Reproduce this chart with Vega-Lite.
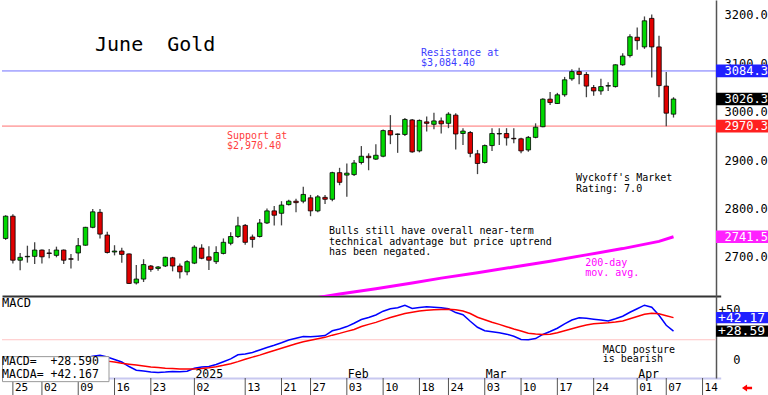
{
"$schema": "https://vega.github.io/schema/vega-lite/v6.json",
"background": "white",
"padding": 0,
"spacing": 0,
"bounds": "flush",
"config": {"view": {"stroke": null}, "font": "DejaVu Sans Mono", "axis": {"grid": false, "title": null}},
"datasets": {
"candles": [
{"d":"2024-11-22","o":2738,"h":2786,"l":2735,"c":2784},
{"d":"2024-11-25","o":2784,"h":2788,"l":2686,"c":2693},
{"d":"2024-11-26","o":2693,"h":2708,"l":2672,"c":2699},
{"d":"2024-11-27","o":2700,"h":2723,"l":2688,"c":2701},
{"d":"2024-11-29","o":2701,"h":2730,"l":2685,"c":2714},
{"d":"2024-12-02","o":2714,"h":2715,"l":2686,"c":2700},
{"d":"2024-12-03","o":2708,"h":2716,"l":2697,"c":2707},
{"d":"2024-12-04","o":2703,"h":2721,"l":2699,"c":2714},
{"d":"2024-12-05","o":2714,"h":2715,"l":2685,"c":2693},
{"d":"2024-12-06","o":2696,"h":2706,"l":2676,"c":2695},
{"d":"2024-12-09","o":2708,"h":2739,"l":2692,"c":2723},
{"d":"2024-12-10","o":2724,"h":2762,"l":2723,"c":2761},
{"d":"2024-12-11","o":2761,"h":2799,"l":2759,"c":2793},
{"d":"2024-12-12","o":2792,"h":2799,"l":2738,"c":2747},
{"d":"2024-12-13","o":2745,"h":2752,"l":2707,"c":2709},
{"d":"2024-12-16","o":2710,"h":2724,"l":2703,"c":2712},
{"d":"2024-12-17","o":2712,"h":2719,"l":2688,"c":2705},
{"d":"2024-12-18","o":2706,"h":2707,"l":2644,"c":2645},
{"d":"2024-12-19","o":2646,"h":2683,"l":2643,"c":2654},
{"d":"2024-12-20","o":2654,"h":2695,"l":2648,"c":2684},
{"d":"2024-12-23","o":2681,"h":2683,"l":2669,"c":2674},
{"d":"2024-12-24","o":2676,"h":2681,"l":2671,"c":2679},
{"d":"2024-12-26","o":2681,"h":2700,"l":2679,"c":2699},
{"d":"2024-12-27","o":2698,"h":2700,"l":2670,"c":2681},
{"d":"2024-12-30","o":2681,"h":2686,"l":2655,"c":2669},
{"d":"2024-12-31","o":2669,"h":2693,"l":2662,"c":2690},
{"d":"2025-01-02","o":2687,"h":2724,"l":2685,"c":2720},
{"d":"2025-01-03","o":2718,"h":2726,"l":2695,"c":2697},
{"d":"2025-01-06","o":2700,"h":2722,"l":2673,"c":2693},
{"d":"2025-01-07","o":2690,"h":2722,"l":2685,"c":2709},
{"d":"2025-01-08","o":2707,"h":2738,"l":2705,"c":2730},
{"d":"2025-01-09","o":2728,"h":2751,"l":2724,"c":2742},
{"d":"2025-01-10","o":2742,"h":2783,"l":2739,"c":2764},
{"d":"2025-01-13","o":2765,"h":2768,"l":2725,"c":2730},
{"d":"2025-01-14","o":2741,"h":2746,"l":2719,"c":2736},
{"d":"2025-01-15","o":2742,"h":2778,"l":2740,"c":2770},
{"d":"2025-01-16","o":2770,"h":2800,"l":2768,"c":2795},
{"d":"2025-01-17","o":2795,"h":2805,"l":2765,"c":2786},
{"d":"2025-01-21","o":2790,"h":2815,"l":2765,"c":2807},
{"d":"2025-01-22","o":2808,"h":2818,"l":2806,"c":2815},
{"d":"2025-01-23","o":2815,"h":2820,"l":2792,"c":2812},
{"d":"2025-01-24","o":2815,"h":2845,"l":2811,"c":2829},
{"d":"2025-01-27","o":2822,"h":2828,"l":2784,"c":2795},
{"d":"2025-01-28","o":2795,"h":2828,"l":2792,"c":2824},
{"d":"2025-01-29","o":2823,"h":2828,"l":2809,"c":2819},
{"d":"2025-01-30","o":2819,"h":2876,"l":2815,"c":2874},
{"d":"2025-01-31","o":2874,"h":2884,"l":2848,"c":2854},
{"d":"2025-02-03","o":2869,"h":2893,"l":2824,"c":2873},
{"d":"2025-02-04","o":2870,"h":2900,"l":2867,"c":2894},
{"d":"2025-02-05","o":2895,"h":2929,"l":2891,"c":2908},
{"d":"2025-02-06","o":2908,"h":2914,"l":2879,"c":2905},
{"d":"2025-02-07","o":2902,"h":2933,"l":2900,"c":2910},
{"d":"2025-02-10","o":2908,"h":2963,"l":2906,"c":2961},
{"d":"2025-02-11","o":2961,"h":2993,"l":2933,"c":2952},
{"d":"2025-02-12","o":2953,"h":2955,"l":2915,"c":2954},
{"d":"2025-02-13","o":2953,"h":2987,"l":2950,"c":2984},
{"d":"2025-02-14","o":2983,"h":2985,"l":2915,"c":2917},
{"d":"2025-02-18","o":2919,"h":2984,"l":2916,"c":2982},
{"d":"2025-02-19","o":2979,"h":2990,"l":2959,"c":2976},
{"d":"2025-02-20","o":2974,"h":2998,"l":2964,"c":2981},
{"d":"2025-02-21","o":2981,"h":2988,"l":2955,"c":2975},
{"d":"2025-02-24","o":2976,"h":2999,"l":2966,"c":2995},
{"d":"2025-02-25","o":2993,"h":2997,"l":2922,"c":2954},
{"d":"2025-02-26","o":2955,"h":2966,"l":2931,"c":2960},
{"d":"2025-02-27","o":2957,"h":2960,"l":2906,"c":2914},
{"d":"2025-02-28","o":2913,"h":2921,"l":2871,"c":2893},
{"d":"2025-03-03","o":2895,"h":2932,"l":2893,"c":2930},
{"d":"2025-03-04","o":2930,"h":2966,"l":2919,"c":2955},
{"d":"2025-03-05","o":2954,"h":2966,"l":2931,"c":2955},
{"d":"2025-03-06","o":2955,"h":2966,"l":2930,"c":2946},
{"d":"2025-03-07","o":2945,"h":2966,"l":2935,"c":2944},
{"d":"2025-03-10","o":2944,"h":2946,"l":2914,"c":2919},
{"d":"2025-03-11","o":2921,"h":2950,"l":2917,"c":2947},
{"d":"2025-03-12","o":2947,"h":2976,"l":2945,"c":2968},
{"d":"2025-03-13","o":2969,"h":3028,"l":2968,"c":3026},
{"d":"2025-03-14","o":3026,"h":3041,"l":3014,"c":3019},
{"d":"2025-03-17","o":3017,"h":3039,"l":3016,"c":3035},
{"d":"2025-03-18","o":3035,"h":3072,"l":3031,"c":3066},
{"d":"2025-03-19","o":3068,"h":3088,"l":3064,"c":3083},
{"d":"2025-03-20","o":3083,"h":3091,"l":3057,"c":3077},
{"d":"2025-03-21","o":3077,"h":3082,"l":3030,"c":3053},
{"d":"2025-03-24","o":3050,"h":3055,"l":3033,"c":3043},
{"d":"2025-03-25","o":3043,"h":3068,"l":3035,"c":3052},
{"d":"2025-03-26","o":3053,"h":3061,"l":3043,"c":3054},
{"d":"2025-03-27","o":3052,"h":3098,"l":3050,"c":3097},
{"d":"2025-03-28","o":3097,"h":3121,"l":3095,"c":3115},
{"d":"2025-03-31","o":3116,"h":3160,"l":3112,"c":3155},
{"d":"2025-04-01","o":3154,"h":3174,"l":3128,"c":3147},
{"d":"2025-04-02","o":3134,"h":3197,"l":3130,"c":3188},
{"d":"2025-04-03","o":3193,"h":3201,"l":3071,"c":3134},
{"d":"2025-04-04","o":3134,"h":3157,"l":3030,"c":3054},
{"d":"2025-04-07","o":3053,"h":3082,"l":2970,"c":2997},
{"d":"2025-04-08","o":2995,"h":3030,"l":2988,"c":3026.3}
],
"ma": [
{"d":"2025-01-24","v":2611},
{"d":"2025-01-31","v":2623},
{"d":"2025-02-07","v":2634},
{"d":"2025-02-14","v":2646},
{"d":"2025-02-21","v":2656},
{"d":"2025-02-28","v":2667},
{"d":"2025-03-07","v":2679},
{"d":"2025-03-14","v":2691},
{"d":"2025-03-21","v":2704},
{"d":"2025-03-28","v":2717},
{"d":"2025-04-04","v":2732},
{"d":"2025-04-08","v":2741.5}
],
"macd": [
{"d":"2024-12-10","m":2.0,"s":0.8},
{"d":"2024-12-11","m":3.6,"s":0.6},
{"d":"2024-12-12","m":4.5,"s":-0.3},
{"d":"2024-12-13","m":2.8,"s":-1.4},
{"d":"2024-12-16","m":0.2,"s":-2.2},
{"d":"2024-12-17","m":-2.3,"s":-3.5},
{"d":"2024-12-18","m":-6.8,"s":-4.5},
{"d":"2024-12-19","m":-10.5,"s":-5.4},
{"d":"2024-12-20","m":-11.4,"s":-6.3},
{"d":"2024-12-23","m":-12.4,"s":-7.2},
{"d":"2024-12-24","m":-12.7,"s":-7.9},
{"d":"2024-12-26","m":-12.4,"s":-8.5},
{"d":"2024-12-27","m":-11.8,"s":-8.9},
{"d":"2024-12-30","m":-12.0,"s":-9.2},
{"d":"2024-12-31","m":-11.5,"s":-9.4},
{"d":"2025-01-02","m":-8.5,"s":-9.2},
{"d":"2025-01-03","m":-7.3,"s":-8.8},
{"d":"2025-01-06","m":-6.8,"s":-8.0},
{"d":"2025-01-07","m":-4.8,"s":-7.0},
{"d":"2025-01-08","m":-2.0,"s":-5.6},
{"d":"2025-01-09","m":0.8,"s":-4.0},
{"d":"2025-01-10","m":5.0,"s":-1.9},
{"d":"2025-01-13","m":5.8,"s":0.4},
{"d":"2025-01-14","m":7.3,"s":2.6},
{"d":"2025-01-15","m":9.8,"s":4.6},
{"d":"2025-01-16","m":12.3,"s":6.9},
{"d":"2025-01-17","m":14.5,"s":9.2},
{"d":"2025-01-21","m":17.0,"s":11.5},
{"d":"2025-01-22","m":19.8,"s":13.8},
{"d":"2025-01-23","m":21.6,"s":16.0},
{"d":"2025-01-24","m":23.2,"s":18.0},
{"d":"2025-01-27","m":23.0,"s":19.6},
{"d":"2025-01-28","m":23.6,"s":21.0},
{"d":"2025-01-29","m":24.2,"s":22.4},
{"d":"2025-01-30","m":29.0,"s":24.6},
{"d":"2025-01-31","m":30.8,"s":26.4},
{"d":"2025-02-03","m":33.2,"s":28.4},
{"d":"2025-02-04","m":36.5,"s":30.3},
{"d":"2025-02-05","m":40.3,"s":33.2},
{"d":"2025-02-06","m":42.3,"s":35.4},
{"d":"2025-02-07","m":44.8,"s":37.4},
{"d":"2025-02-10","m":48.6,"s":39.9},
{"d":"2025-02-11","m":51.0,"s":42.2},
{"d":"2025-02-12","m":52.0,"s":44.3},
{"d":"2025-02-13","m":54.5,"s":46.2},
{"d":"2025-02-14","m":51.3,"s":47.5},
{"d":"2025-02-18","m":52.3,"s":48.8},
{"d":"2025-02-19","m":53.0,"s":49.5},
{"d":"2025-02-20","m":52.5,"s":50.0},
{"d":"2025-02-21","m":52.0,"s":50.4},
{"d":"2025-02-24","m":51.0,"s":50.6},
{"d":"2025-02-25","m":47.2,"s":50.1},
{"d":"2025-02-26","m":45.0,"s":48.7},
{"d":"2025-02-27","m":38.5,"s":46.3},
{"d":"2025-02-28","m":32.5,"s":42.5},
{"d":"2025-03-03","m":29.0,"s":40.0},
{"d":"2025-03-04","m":28.0,"s":37.6},
{"d":"2025-03-05","m":27.0,"s":35.4},
{"d":"2025-03-06","m":25.6,"s":33.1},
{"d":"2025-03-07","m":23.5,"s":30.8},
{"d":"2025-03-10","m":20.3,"s":28.8},
{"d":"2025-03-11","m":20.0,"s":26.6},
{"d":"2025-03-12","m":21.2,"s":25.8},
{"d":"2025-03-13","m":25.3,"s":25.3},
{"d":"2025-03-14","m":28.2,"s":25.5},
{"d":"2025-03-17","m":31.5,"s":27.0},
{"d":"2025-03-18","m":35.8,"s":29.0},
{"d":"2025-03-19","m":39.8,"s":31.0},
{"d":"2025-03-20","m":42.0,"s":33.0},
{"d":"2025-03-21","m":41.5,"s":34.8},
{"d":"2025-03-24","m":40.6,"s":35.9},
{"d":"2025-03-25","m":39.7,"s":36.6},
{"d":"2025-03-26","m":38.8,"s":37.1},
{"d":"2025-03-27","m":41.0,"s":37.8},
{"d":"2025-03-28","m":43.5,"s":38.8},
{"d":"2025-03-31","m":47.5,"s":41.0},
{"d":"2025-04-01","m":51.0,"s":43.2},
{"d":"2025-04-02","m":54.6,"s":45.5},
{"d":"2025-04-03","m":52.5,"s":46.5},
{"d":"2025-04-04","m":44.5,"s":46.0},
{"d":"2025-04-07","m":34.5,"s":44.0},
{"d":"2025-04-08","m":28.59,"s":42.17}
],
"ticks": [
{"d":"2024-11-25","t":"25"},{"d":"2024-12-02","t":"02"},{"d":"2024-12-09","t":"09"},{"d":"2024-12-16","t":"16"},{"d":"2024-12-23","t":"23"},
{"d":"2025-01-02","t":"02"},{"d":"2025-01-13","t":"13"},{"d":"2025-01-21","t":"21"},{"d":"2025-01-27","t":"27"},
{"d":"2025-02-03","t":"03"},{"d":"2025-02-10","t":"10"},{"d":"2025-02-18","t":"18"},{"d":"2025-02-24","t":"24"},
{"d":"2025-03-03","t":"03"},{"d":"2025-03-10","t":"10"},{"d":"2025-03-17","t":"17"},{"d":"2025-03-24","t":"24"},
{"d":"2025-04-01","t":"01"},{"d":"2025-04-07","t":"07"},{"d":"2025-04-14","t":"14"}
]
},
"vconcat": [
{
"width": 714, "height": 296,
"layer": [
{"data": {"values": [{}]}, "mark": {"type": "rule", "color": "#ff7070", "strokeWidth": 1},
 "encoding": {"y": {"datum": 2970.3, "type": "quantitative", "scale": {"domain": [2619, 3231], "nice": false, "zero": false}}}},
{"data": {"values": [{}]}, "mark": {"type": "rule", "color": "#7070ff", "strokeWidth": 1},
 "encoding": {"y": {"datum": 3084.3, "type": "quantitative", "scale": {"domain": [2619, 3231], "nice": false, "zero": false}}}},
{"data": {"name": "candles"}, "mark": {"type": "rule", "color": "#444444", "strokeWidth": 1.3},
 "encoding": {
  "x": {"field": "d", "type": "ordinal",
   "scale": {"domain": ["2024-11-22","2024-11-25","2024-11-26","2024-11-27","2024-11-29","2024-12-02","2024-12-03","2024-12-04","2024-12-05","2024-12-06","2024-12-09","2024-12-10","2024-12-11","2024-12-12","2024-12-13","2024-12-16","2024-12-17","2024-12-18","2024-12-19","2024-12-20","2024-12-23","2024-12-24","2024-12-26","2024-12-27","2024-12-30","2024-12-31","2025-01-02","2025-01-03","2025-01-06","2025-01-07","2025-01-08","2025-01-09","2025-01-10","2025-01-13","2025-01-14","2025-01-15","2025-01-16","2025-01-17","2025-01-21","2025-01-22","2025-01-23","2025-01-24","2025-01-27","2025-01-28","2025-01-29","2025-01-30","2025-01-31","2025-02-03","2025-02-04","2025-02-05","2025-02-06","2025-02-07","2025-02-10","2025-02-11","2025-02-12","2025-02-13","2025-02-14","2025-02-18","2025-02-19","2025-02-20","2025-02-21","2025-02-24","2025-02-25","2025-02-26","2025-02-27","2025-02-28","2025-03-03","2025-03-04","2025-03-05","2025-03-06","2025-03-07","2025-03-10","2025-03-11","2025-03-12","2025-03-13","2025-03-14","2025-03-17","2025-03-18","2025-03-19","2025-03-20","2025-03-21","2025-03-24","2025-03-25","2025-03-26","2025-03-27","2025-03-28","2025-03-31","2025-04-01","2025-04-02","2025-04-03","2025-04-04","2025-04-07","2025-04-08","2025-04-09","2025-04-10","2025-04-11","2025-04-14","2025-04-15","2025-04-16"],
    "range": [0, 718.7], "paddingInner": 0, "paddingOuter": 0},
   "axis": {"labels": false, "ticks": false, "domainColor": "#333333", "domainWidth": 2, "title": null}},
  "y": {"field": "l", "type": "quantitative", "scale": {"domain": [2619, 3231], "nice": false, "zero": false},
   "axis": {"orient": "right", "values": [2700, 2800, 2900, 3000, 3100, 3200], "format": ".1f", "labelFont": "DejaVu Sans Mono", "labelFontSize": 12, "labelColor": "#000000", "labelPadding": 8, "ticks": false, "domainColor": "#555555", "domainWidth": 1.5, "title": null}},
  "y2": {"field": "h"}}},
{"data": {"name": "candles"}, "mark": {"type": "bar", "width": 4.5, "stroke": "#000000", "strokeWidth": 0.8},
 "encoding": {
  "x": {"field": "d", "type": "ordinal"},
  "y": {"field": "o", "type": "quantitative", "scale": {"domain": [2619, 3231], "nice": false, "zero": false}},
  "y2": {"field": "c"},
  "fill": {"condition": {"test": "datum.c >= datum.o", "value": "#00d800"}, "value": "#e00000"}}},
{"data": {"name": "ma"}, "mark": {"type": "line", "color": "#ff00ff", "strokeWidth": 3, "clip": true},
 "encoding": {"x": {"field": "d", "type": "ordinal"}, "y": {"field": "v", "type": "quantitative", "scale": {"domain": [2619, 3231], "nice": false, "zero": false}}}},
{"data": {"values": [{}]}, "mark": {"type": "text", "text": "June\u00a0\u00a0Gold", "align": "left", "baseline": "middle", "fontSize": 20, "font": "DejaVu Sans Mono", "color": "#000000", "dx": -5},
 "encoding": {"x": {"datum": "2024-12-12", "type": "ordinal"}, "y": {"datum": 3138, "type": "quantitative"}}},
{"data": {"values": [{}]}, "mark": {"type": "text", "text": ["Resistance at", "$3,084.40"], "lineHeight": 10, "align": "left", "baseline": "middle", "fontSize": 10, "font": "DejaVu Sans Mono", "color": "#3c3cff", "dx": 1.5},
 "encoding": {"x": {"datum": "2025-02-18", "type": "ordinal"}, "y": {"datum": 3121.4, "type": "quantitative"}}},
{"data": {"values": [{}]}, "mark": {"type": "text", "text": ["Support at", "$2,970.40"], "lineHeight": 10.5, "align": "left", "baseline": "middle", "fontSize": 10, "font": "DejaVu Sans Mono", "color": "#ff3c3c", "dx": -3.7},
 "encoding": {"x": {"datum": "2025-01-09", "type": "ordinal"}, "y": {"datum": 2950.7, "type": "quantitative"}}},
{"data": {"values": [{}]}, "mark": {"type": "text", "text": ["Bulls still have overall near-term", "technical advantage but price uptrend", "has been negated."], "lineHeight": 10.6, "align": "left", "baseline": "middle", "fontSize": 10, "font": "DejaVu Sans Mono", "color": "#000000", "dx": -3.3},
 "encoding": {"x": {"datum": "2025-01-30", "type": "ordinal"}, "y": {"datum": 2753.2, "type": "quantitative"}}},
{"data": {"values": [{}]}, "mark": {"type": "text", "text": ["Wyckoff's Market", "Rating: 7.0"], "lineHeight": 10.7, "align": "left", "baseline": "middle", "fontSize": 10, "font": "DejaVu Sans Mono", "color": "#000000", "dx": -3.2},
 "encoding": {"x": {"datum": "2025-03-20", "type": "ordinal"}, "y": {"datum": 2862.2, "type": "quantitative"}}},
{"data": {"values": [{}]}, "mark": {"type": "text", "text": ["200-day", "mov. avg."], "lineHeight": 10, "align": "left", "baseline": "middle", "fontSize": 10, "font": "DejaVu Sans Mono", "color": "#ff00ff", "dx": -1.2},
 "encoding": {"x": {"datum": "2025-03-21", "type": "ordinal"}, "y": {"datum": 2686.3, "type": "quantitative"}}},
{"data": {"values": [{"k": "resistance", "v": 3084.3}, {"k": "last", "v": 3026.3}, {"k": "support", "v": 2970.3}, {"k": "ma", "v": 2741.5}]},
 "mark": {"type": "point", "shape": "M-0.04,-0.235H1.96V0.235H-0.04Z", "size": 2916, "filled": true, "opacity": 1, "strokeWidth": 0},
 "encoding": {"x": {"datum": "2025-04-16", "type": "ordinal"}, "y": {"field": "v", "type": "quantitative"},
  "color": {"field": "k", "type": "nominal", "scale": {"domain": ["resistance", "last", "support", "ma"], "range": ["#2020ff", "#000000", "#ff2020", "#ff20ff"]}, "legend": null}}},
{"data": {"values": [{"k": "resistance", "v": 3084.3}, {"k": "last", "v": 3026.3}, {"k": "support", "v": 2970.3}, {"k": "ma", "v": 2741.5}]},
 "mark": {"type": "text", "align": "left", "baseline": "middle", "fontSize": 12, "font": "DejaVu Sans Mono", "color": "#ffffff", "dx": 7.5},
 "encoding": {"x": {"datum": "2025-04-16", "type": "ordinal"}, "y": {"field": "v", "type": "quantitative"}, "text": {"field": "v", "type": "quantitative", "format": ".1f"}}}
]
},
{
"width": 714, "height": 82,
"layer": [
{"data": {"values": [{}]}, "mark": {"type": "rule", "color": "#ffc4c4", "strokeWidth": 1},
 "encoding": {"y": {"datum": 20, "type": "quantitative", "scale": {"domain": [-18.3, 63.8], "nice": false, "zero": false}}}},
{"data": {"name": "macd"}, "mark": {"type": "line", "color": "#0000ff", "strokeWidth": 1.5},
 "encoding": {
  "x": {"field": "d", "type": "ordinal",
   "scale": {"domain": ["2024-11-22","2024-11-25","2024-11-26","2024-11-27","2024-11-29","2024-12-02","2024-12-03","2024-12-04","2024-12-05","2024-12-06","2024-12-09","2024-12-10","2024-12-11","2024-12-12","2024-12-13","2024-12-16","2024-12-17","2024-12-18","2024-12-19","2024-12-20","2024-12-23","2024-12-24","2024-12-26","2024-12-27","2024-12-30","2024-12-31","2025-01-02","2025-01-03","2025-01-06","2025-01-07","2025-01-08","2025-01-09","2025-01-10","2025-01-13","2025-01-14","2025-01-15","2025-01-16","2025-01-17","2025-01-21","2025-01-22","2025-01-23","2025-01-24","2025-01-27","2025-01-28","2025-01-29","2025-01-30","2025-01-31","2025-02-03","2025-02-04","2025-02-05","2025-02-06","2025-02-07","2025-02-10","2025-02-11","2025-02-12","2025-02-13","2025-02-14","2025-02-18","2025-02-19","2025-02-20","2025-02-21","2025-02-24","2025-02-25","2025-02-26","2025-02-27","2025-02-28","2025-03-03","2025-03-04","2025-03-05","2025-03-06","2025-03-07","2025-03-10","2025-03-11","2025-03-12","2025-03-13","2025-03-14","2025-03-17","2025-03-18","2025-03-19","2025-03-20","2025-03-21","2025-03-24","2025-03-25","2025-03-26","2025-03-27","2025-03-28","2025-03-31","2025-04-01","2025-04-02","2025-04-03","2025-04-04","2025-04-07","2025-04-08","2025-04-09","2025-04-10","2025-04-11","2025-04-14","2025-04-15","2025-04-16"],
    "range": [0, 718.7], "paddingInner": 0, "paddingOuter": 0},
   "axis": {"labels": false, "ticks": false, "domainColor": "#c8c8f0", "domainWidth": 2, "title": null}},
  "y": {"field": "m", "type": "quantitative", "scale": {"domain": [-18.3, 63.8], "nice": false, "zero": false},
   "axis": {"orient": "right", "values": [0, 50], "labelExpr": "datum.value > 0 ? '+' + datum.value : '' + datum.value", "labelAlign": "right", "labelPadding": 24, "labelFont": "DejaVu Sans Mono", "labelFontSize": 12, "labelColor": "#000000", "ticks": false, "domainColor": "#555555", "domainWidth": 1.5, "title": null}}}},
{"data": {"name": "macd"}, "mark": {"type": "line", "color": "#ff0000", "strokeWidth": 1.5},
 "encoding": {"x": {"field": "d", "type": "ordinal"}, "y": {"field": "s", "type": "quantitative", "scale": {"domain": [-18.3, 63.8], "nice": false, "zero": false}}}},
{"data": {"name": "ticks"}, "mark": {"type": "rule", "color": "#555555", "strokeWidth": 1},
 "encoding": {"x": {"field": "d", "type": "ordinal"}, "y": {"datum": -18.3, "type": "quantitative"}, "y2": {"datum": -36}}},
{"data": {"name": "ticks"}, "mark": {"type": "text", "align": "left", "baseline": "top", "fontSize": 11, "font": "DejaVu Sans Mono", "color": "#000000", "dx": 2},
 "encoding": {"x": {"field": "d", "type": "ordinal"}, "y": {"datum": -22.8, "type": "quantitative"}, "text": {"field": "t"}}},
{"data": {"values": [{}]}, "mark": {"type": "text", "text": "MACD", "align": "left", "baseline": "middle", "fontSize": 12, "font": "DejaVu Sans Mono", "color": "#000000", "dx": -3.6},
 "encoding": {"x": {"datum": "2024-11-22", "type": "ordinal"}, "y": {"datum": 56.5, "type": "quantitative"}}},
{"data": {"values": [{}]}, "mark": {"type": "text", "text": ["MACD posture", " is bearish"], "lineHeight": 9.5, "align": "left", "baseline": "middle", "fontSize": 10, "font": "DejaVu Sans Mono", "color": "#000000", "dx": 1.8},
 "encoding": {"x": {"datum": "2025-03-25", "type": "ordinal"}, "y": {"datum": 9.8, "type": "quantitative"}}},
{"data": {"values": [{"d": "2025-01-02", "t": "2025"}, {"d": "2025-02-03", "t": "Feb"}, {"d": "2025-03-03", "t": "Mar"}, {"d": "2025-04-01", "t": "Apr"}]},
 "mark": {"type": "text", "align": "left", "baseline": "middle", "fontSize": 11.5, "font": "DejaVu Sans Mono", "color": "#000000", "dx": 1},
 "encoding": {"x": {"field": "d", "type": "ordinal"}, "y": {"datum": -14.8, "type": "quantitative"}, "text": {"field": "t"}}},
{"data": {"values": [{}]}, "mark": {"type": "point", "shape": "M-0.052,0H1.723V0.417H-0.052Z", "size": 14400, "filled": true, "fill": "#ffffff", "opacity": 1, "stroke": "#999999", "strokeWidth": 1},
 "encoding": {"x": {"datum": "2024-11-22", "type": "ordinal"}, "y": {"datum": 3.1, "type": "quantitative"}}},
{"data": {"values": [{"t": "MACD=\u00a0\u00a0+28.590", "v": -2.7}, {"t": "MACDA=\u00a0+42.167", "v": -15.3}]},
 "mark": {"type": "text", "align": "left", "baseline": "middle", "fontSize": 11.5, "font": "DejaVu Sans Mono", "color": "#000000", "dx": -3.6},
 "encoding": {"x": {"datum": "2024-11-22", "type": "ordinal"}, "y": {"field": "v", "type": "quantitative"}, "text": {"field": "t"}}},
{"data": {"values": [{"k": "macda", "v": 42.17}, {"k": "macd", "v": 28.59}]},
 "mark": {"type": "point", "shape": "M-0.04,-0.21H1.96V0.21H-0.04Z", "size": 2916, "filled": true, "opacity": 1, "strokeWidth": 0},
 "encoding": {"x": {"datum": "2025-04-16", "type": "ordinal"}, "y": {"field": "v", "type": "quantitative"},
  "color": {"field": "k", "type": "nominal", "scale": {"domain": ["macda", "macd"], "range": ["#ff2020", "#2020ff"]}, "legend": null}}},
{"data": {"values": [{"k": "macda", "v": 42.17}, {"k": "macd", "v": 28.59}]},
 "mark": {"type": "text", "align": "left", "baseline": "middle", "fontSize": 13, "font": "DejaVu Sans Mono", "color": "#ffffff", "dx": 1},
 "encoding": {"x": {"datum": "2025-04-16", "type": "ordinal"}, "y": {"field": "v", "type": "quantitative"}, "text": {"field": "v", "type": "quantitative", "format": "+.2f"}}},
{"data": {"values": [{}]}, "mark": {"type": "point", "shape": "M1.245,0.5L1.5,0.33V0.44H1.75V0.56H1.5V0.67Z", "size": 1600, "filled": true, "fill": "#ff0000", "opacity": 1, "strokeWidth": 0},
 "encoding": {"x": {"datum": "2025-04-16", "type": "ordinal"}, "y": {"datum": -18.3, "type": "quantitative"}}}
]
}
]
}
